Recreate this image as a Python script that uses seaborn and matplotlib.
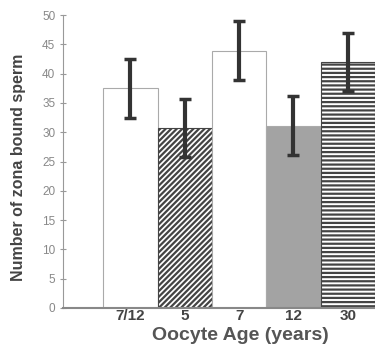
import pandas as pd
import matplotlib
matplotlib.use('Agg')
import matplotlib.pyplot as plt
import seaborn as sns

# data
ages = ['7/12', '5', '7', '12', '30']
sperm = [37.5, 30.7, 43.9, 31.1, 42.0]
sem = [5.0, 5.0, 5.0, 5.0, 5.0]

df = pd.DataFrame({'age': ages, 'sperm': sperm})

sns.set_style('white')
plt.rcParams['font.family'] = ['Liberation Sans', 'DejaVu Sans']
plt.rcParams['hatch.linewidth'] = 1.6

fig = plt.figure(figsize=(3.75, 3.5), dpi=100)
ax = fig.add_axes([0.168, 0.12, 0.832, 0.837])

fills = ['white', 'white', 'white', '#a3a3a3', 'white']
sns.barplot(x='age', y='sperm', data=df, order=ages, width=1.0,
            errorbar=None, ax=ax, color='white')

hatches = ['', '//////', '', '', '----']
for bar, fc, h in zip(ax.patches, fills, hatches):
    bar.set_facecolor(fc)
    bar.set_hatch(h)
    bar.set_edgecolor('#444444' if h else '#aaaaaa')
    bar.set_linewidth(0.8)

ax.errorbar(range(len(ages)), sperm, yerr=sem, fmt='none', ecolor='#333333',
            elinewidth=3, capsize=4, capthick=2.5, zorder=5)

ax.set_xlim(-1.24, 4.5)
ax.set_ylim(0, 50)
ax.set_yticks(range(0, 51, 5))
ax.tick_params(axis='y', labelsize=8.5, labelcolor='#888888', direction='inout',
               length=5, width=0.8, color='#999999', left=True, pad=3)
ax.tick_params(axis='x', labelsize=11, labelcolor='#444444', length=0, pad=1)
for lab in ax.get_xticklabels():
    lab.set_fontweight('bold')

sns.despine(ax=ax, top=True, right=True)
ax.spines['left'].set_color('#999999')
ax.spines['bottom'].set_color('#888888')
ax.spines['bottom'].set_linewidth(1.5)

ax.set_ylabel('Number of zona bound sperm', fontsize=11.5, fontweight='bold',
              color='#444444')
ax.yaxis.set_label_coords(-0.12, 0.48)
ax.set_xlabel('Oocyte Age (years)', fontsize=14, fontweight='bold',
              color='#555555')
ax.xaxis.set_label_coords(0.57, -0.065)

fig.savefig('out.png', dpi=100)
